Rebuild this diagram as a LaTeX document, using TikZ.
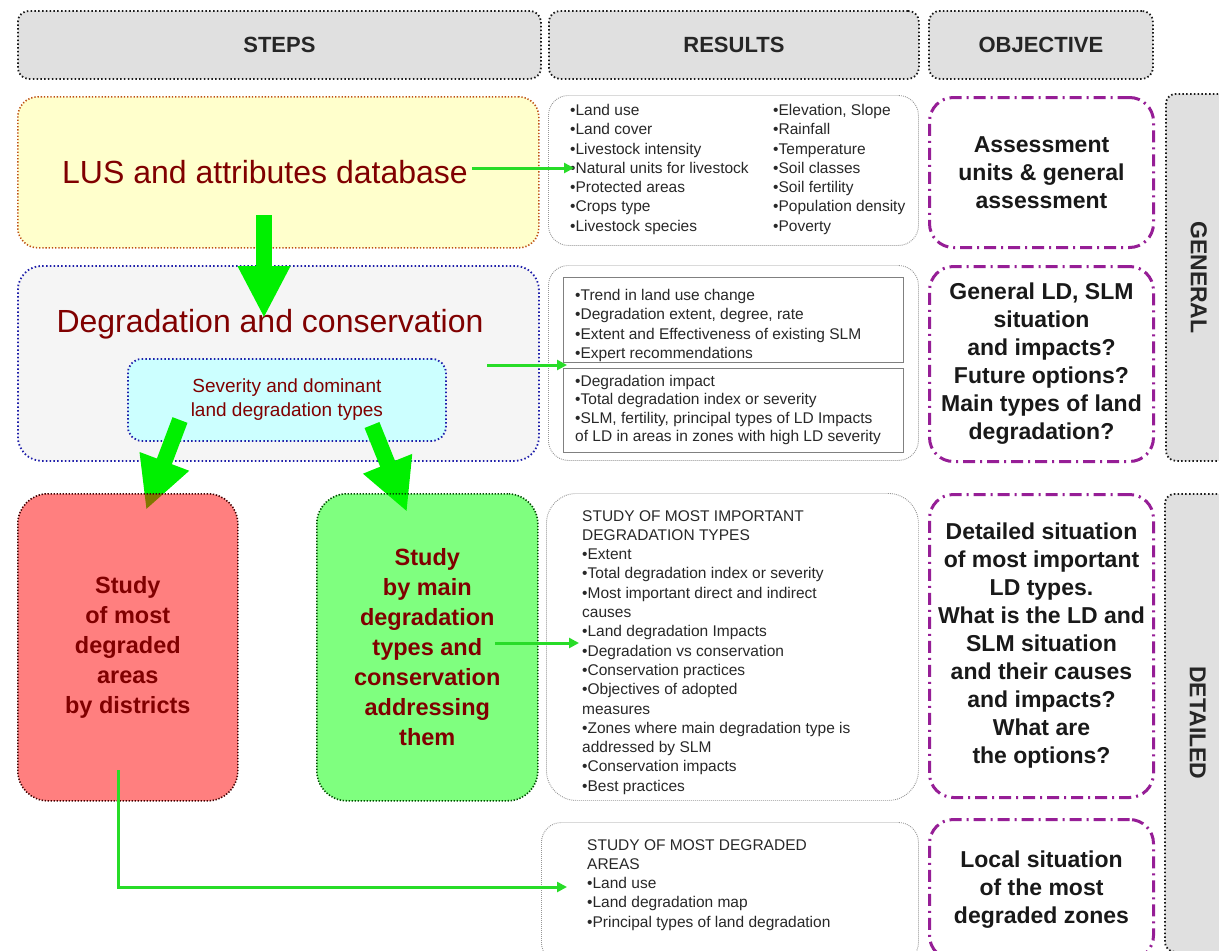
\documentclass[tikz,border=0pt]{standalone}
\usepackage{fontspec}
\setmainfont{Liberation Sans}
\usetikzlibrary{arrows.meta}

\definecolor{hdrgray}{RGB}{224,224,224}
\definecolor{lusfill}{RGB}{255,255,204}
\definecolor{lusline}{RGB}{190,80,20}
\definecolor{degfill}{RGB}{245,245,245}
\definecolor{degline}{RGB}{30,30,170}
\definecolor{sevfill}{RGB}{204,255,255}
\definecolor{darkred}{RGB}{128,0,0}
\definecolor{arrgreen}{RGB}{0,240,0}
\definecolor{linkgreen}{RGB}{40,220,40}
\definecolor{objpurple}{RGB}{150,30,150}
\definecolor{resline}{RGB}{150,150,150}
\definecolor{bodytext}{RGB}{40,40,40}

\begin{document}
\begin{tikzpicture}[x=1pt,y=-1pt,
  box/.style={anchor=north west, inner sep=0pt, align=center},
  hdr/.style={box, draw=black!90, line width=1.8pt, dash pattern=on 1.5pt off 2.3pt,
    fill=hdrgray, rounded corners=11pt,
    font=\fontsize{22}{26}\selectfont\bfseries, text=black!85},
  side/.style={box, draw=black!90, line width=1.8pt, dash pattern=on 1.5pt off 2.3pt,
    fill=hdrgray, rounded corners=10pt},
  sidetext/.style={font=\fontsize{23}{26}\selectfont\bfseries, text=black!85, rotate=-90},
  resbox/.style={box, draw=resline, line width=0.9pt, dash pattern=on 0.9pt off 1.1pt,
    fill=white, rounded corners=20pt},
  restext/.style={anchor=north west, inner sep=0pt, align=left, text=bodytext,
    font=\fontsize{15.5}{19.3}\selectfont},
  objbox/.style={box, draw=objpurple, line width=3pt,
    dash pattern=on 12pt off 5pt on 2pt off 5pt, fill=white, rounded corners=24pt,
    text=black!90, font=\fontsize{23}{28}\selectfont\bfseries},
  stepbig/.style={text=darkred, font=\fontsize{32}{36}\selectfont},
  studybox/.style={box, line width=1.6pt, dash pattern=on 1.3pt off 1.7pt,
    rounded corners=30pt, fill opacity=0.5, text opacity=1, text=darkred,
    font=\fontsize{23.5}{30}\selectfont\bfseries},
  bigarrow/.style={draw=arrgreen, line width=16pt, -{Triangle[width=49pt,length=52pt]}},
  link/.style={draw=linkgreen, line width=3pt, -{Triangle[length=10pt,width=10pt]}}
]
\useasboundingbox (0,0) rectangle (1219,951);
\clip (0,0) rectangle (1219,951);

% column headers
\node[hdr, minimum width=523pt, minimum height=68pt] (steps) at (17,10) {STEPS};
\node[hdr, minimum width=370pt, minimum height=68pt] (results) at (548,10) {RESULTS};
\node[hdr, minimum width=224pt, minimum height=68pt] (objective) at (928,10) {OBJECTIVE};

% level bands on the right
\node[side, minimum width=66pt, minimum height=367pt] (general) at (1165,93) {};
\node[sidetext] (gentxt) at (general.center) {GENERAL};
\node[side, minimum width=66pt, minimum height=458pt] (detailed) at (1164,493) {};
\node[sidetext] (dettxt) at (detailed.center) {DETAILED};

% steps column
\node[box, draw=lusline, line width=1.6pt, dash pattern=on 1.3pt off 1.9pt,
  fill=lusfill, rounded corners=20pt, minimum width=521pt, minimum height=151pt] (lus) at (17,96) {};
\node[stepbig] (lustxt) at (265,172) {LUS and attributes database};

\node[box, draw=degline, line width=1.8pt, dash pattern=on 1.5pt off 2.3pt,
  fill=degfill, rounded corners=24pt, minimum width=521pt, minimum height=195pt] (deg) at (17,265) {};
\node[stepbig] (degtxt) at (270,324) {Degradation and conservation};

\node[box, draw=degline, line width=1.8pt, dash pattern=on 1.5pt off 2.3pt,
  fill=sevfill, rounded corners=14pt, minimum width=318pt, minimum height=82pt,
  text=darkred, font=\fontsize{19}{24}\selectfont] (sev) at (127,358)
  {Severity and dominant\\land degradation types};

% results column
\node[resbox, minimum width=370pt, minimum height=150pt] (res1) at (548,95) {};
\node[restext] (res1a) at (570,104) {•Land use\\•Land cover\\•Livestock intensity\\•Natural units for livestock\\•Protected areas\\•Crops type\\•Livestock species};
\node[restext] (res1b) at (773,104) {•Elevation, Slope\\•Rainfall\\•Temperature\\•Soil classes\\•Soil fertility\\•Population density\\•Poverty};

\node[resbox, minimum width=370pt, minimum height=195pt] (res2) at (548,265) {};
\node[box, draw=gray, line width=1pt, minimum width=340pt, minimum height=85pt] (res2up) at (563,277) {};
\node[box, draw=gray, line width=1pt, minimum width=340pt, minimum height=84pt] (res2lo) at (563,368) {};
\node[restext] (res2a) at (575,289) {•Trend in land use change\\•Degradation extent, degree, rate\\•Extent and Effectiveness of existing SLM\\•Expert recommendations};
\node[restext, font=\fontsize{15.5}{18.5}\selectfont] (res2b) at (575,375) {•Degradation impact\\•Total degradation index or severity\\•SLM, fertility, principal types of LD Impacts\\of LD in areas in zones with high LD severity};

\node[resbox, rounded corners=30pt, minimum width=372pt, minimum height=307pt] (res3) at (546,493) {};
\node[restext] (res3a) at (582,510) {STUDY OF MOST IMPORTANT\\DEGRADATION TYPES\\•Extent\\•Total degradation index or severity\\•Most important direct and indirect\\causes\\•Land degradation Impacts\\•Degradation vs conservation\\•Conservation practices\\•Objectives of adopted\\measures\\•Zones where main degradation type is\\addressed by SLM\\•Conservation impacts\\•Best practices};

\node[resbox, minimum width=377pt, minimum height=140pt] (res4) at (541,822) {};
\node[restext] (res4a) at (587,839) {STUDY OF MOST DEGRADED\\AREAS\\•Land use\\•Land degradation map\\•Principal types of land degradation};

% objective column
\node[objbox, minimum width=224pt, minimum height=150pt] (obj1) at (928,96)
  {Assessment\\units \& general\\assessment};
\node[objbox, minimum width=224pt, minimum height=195pt] (obj2) at (928,265)
  {General LD, SLM\\situation\\and impacts?\\Future options?\\Main types of land\\degradation?};
\node[objbox, minimum width=224pt, minimum height=303pt] (obj3) at (928,493)
  {Detailed situation\\of most important\\LD types.\\What is the LD and\\SLM situation\\and their causes\\and impacts?\\What are\\the options?};
\node[objbox, minimum width=224pt, minimum height=140pt] (obj4) at (928,818)
  {Local situation\\of the most\\degraded zones};

% flow between steps
\coordinate (a1s) at (264,215);
\coordinate (a1e) at (264,318);
\coordinate (a2s) at (180,420);
\coordinate (a2e) at (146,510);
\coordinate (a3s) at (372,425);
\coordinate (a3e) at (407,512);
\draw[bigarrow] (a1s) -- (a1e);
\draw[bigarrow] (a2s) -- (a2e);
\draw[bigarrow] (a3s) -- (a3e);

% detailed studies (translucent so the arrow heads show through)
\node[studybox, draw=black!75!red, fill=red, minimum width=220pt, minimum height=307pt] (areas) at (17,493)
  {Study\\of most\\degraded\\areas\\by districts};
\node[studybox, draw=black!70!green, fill=green, minimum width=221pt, minimum height=307pt] (types) at (316,493)
  {Study\\by main\\degradation\\types and\\conservation\\addressing\\them};

% links from steps to results
\coordinate (l1s) at (472,168);
\coordinate (l1e) at (574,168);
\coordinate (l2s) at (487,365);
\coordinate (l2e) at (567,365);
\coordinate (l3s) at (495,643);
\coordinate (l3e) at (579,643);
\coordinate (l4s) at (118,770);
\coordinate (l4e) at (567,887);
\draw[link] (l1s) -- (l1e);
\draw[link] (l2s) -- (l2e);
\draw[link] (l3s) -- (l3e);
\draw[link] (l4s) |- (l4e);
\end{tikzpicture}
\end{document}
